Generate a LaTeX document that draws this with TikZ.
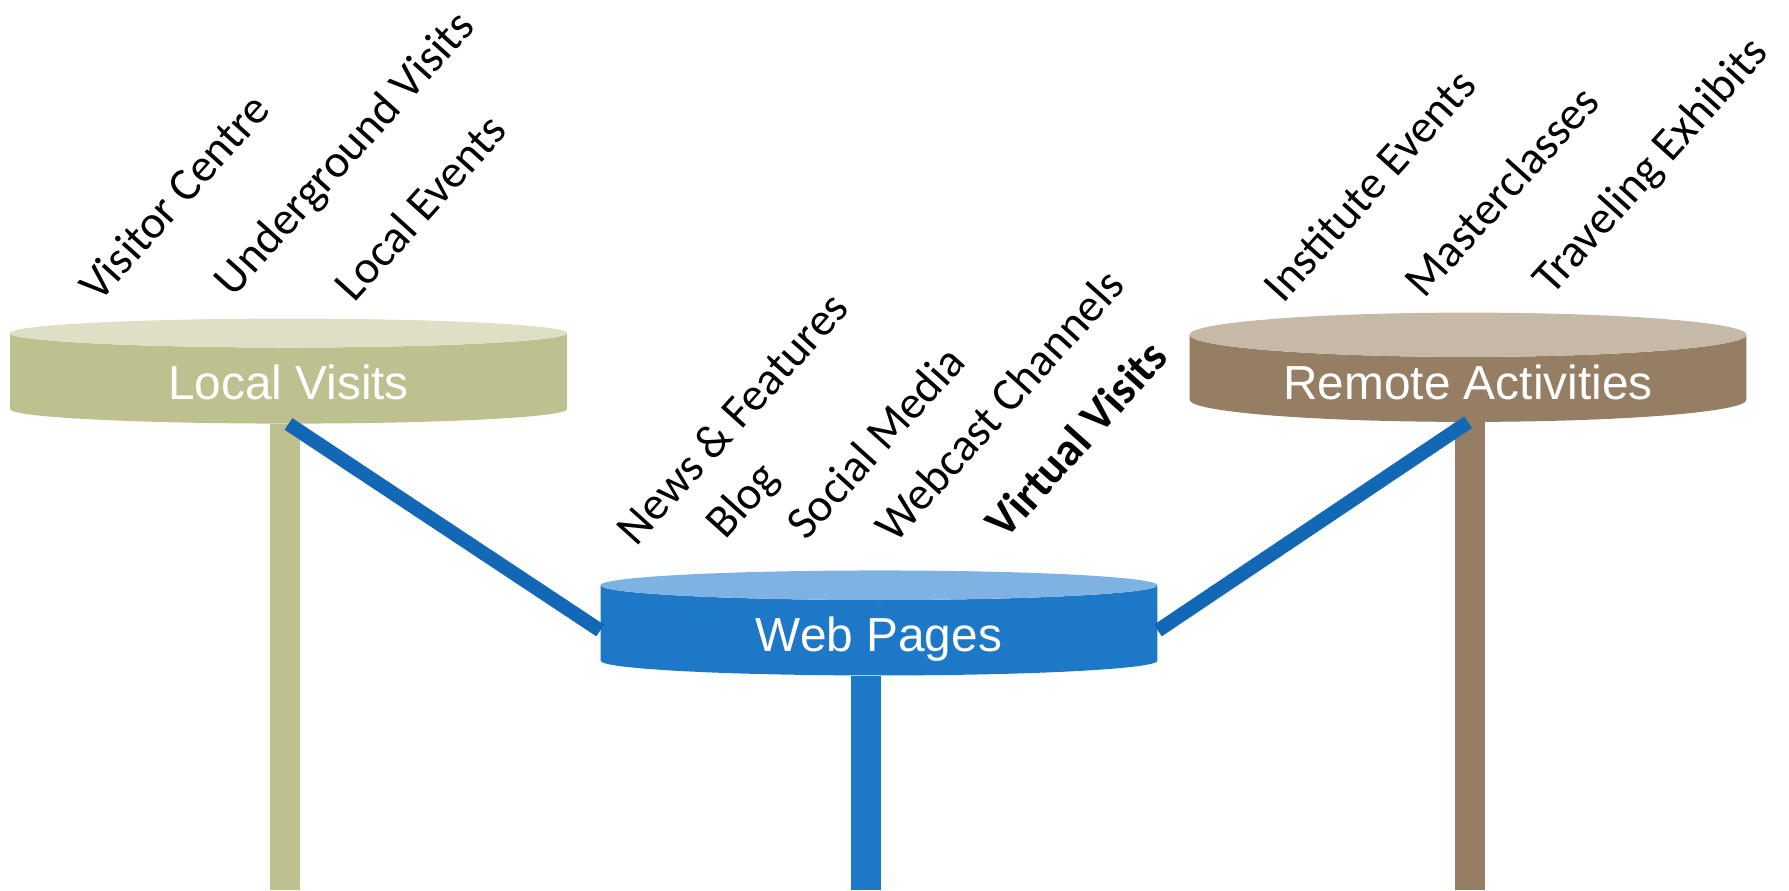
\documentclass[tikz,border=0pt]{standalone}
\usepackage{fontspec}
\setmainfont{Carlito}
\newfontfamily\boxfont{Liberation Sans}
\usetikzlibrary{shapes.geometric}

\definecolor{localbody}{RGB}{190,192,143}
\definecolor{localtop}{RGB}{222,223,196}
\definecolor{webbody}{RGB}{30,120,200}
\definecolor{webtop}{RGB}{125,178,226}
\definecolor{remotebody}{RGB}{150,126,101}
\definecolor{remotetop}{RGB}{198,185,168}
\definecolor{linkblue}{RGB}{18,104,180}

\begin{document}
\begin{tikzpicture}[
    x=0.02cm, y=-0.02cm,
    platform/.style={
        cylinder,
        shape border rotate=90, % flat end points up
        aspect=0.12,
        minimum width=11.14cm,
        minimum height=2.1cm,
        inner sep=0pt,
        cylinder uses custom fill,
        text=white,
        text height=0.85cm, text depth=0pt,
        font=\boxfont\fontsize{27.2}{30}\selectfont
    },
    item/.style={rotate=48, inner sep=0pt, font=\fontsize{26.5}{30}\selectfont},
    pillar/.style={line width=0.6cm},
    link/.style={draw=linkblue, line width=0.28cm}
]
\useasboundingbox (0,0) rectangle (1789,890);

% the three platforms
\node[platform, cylinder body fill=localbody, cylinder end fill=localtop]
    (local) at (288.5,378.5) {Local Visits};
\node[platform, cylinder body fill=webbody, cylinder end fill=webtop]
    (web) at (879,630.5) {Web Pages};
\node[platform, cylinder body fill=remotebody, cylinder end fill=remotetop]
    (remote) at (1468,378.5) {Remote Activities};

% legs down to the floor
\coordinate (localfoot) at (285,890);
\coordinate (webfoot) at (865.5,890);
\coordinate (remotefoot) at (1470,890);
\draw[pillar, localbody] (localfoot) -- (localfoot |- local.south);
\draw[pillar, webbody] (webfoot) -- (webfoot |- web.south);
\draw[pillar, remotebody] (remotefoot) -- (remotefoot |- remote.south);

% links
\draw[link] (local.south) -- (web.west);
\draw[link] (web.east) -- (remote.south);

% items above each platform
\node[item] (visitor) at (174,197) {Visitor Centre};
\node[item] (underground) at (346,155) {Underground Visits};
\node[item] (localev) at (420,207) {Local Events};

\node[item] (news) at (732,418) {News \& Features};
\node[item] (blog) at (744,502) {Blog};
\node[item] (social) at (875,442) {Social Media};
\node[item] (webcast) at (999,405) {Webcast Channels};
\node[item, font=\fontsize{26.5}{30}\selectfont\bfseries] (virtual) at (1076,439) {Virtual Visits};

\node[item] (institute) at (1369,185) {Institute Events};
\node[item] (master) at (1501,191) {Masterclasses};
\node[item] (traveling) at (1652,167) {Traveling Exhibits};
\end{tikzpicture}
\end{document}
